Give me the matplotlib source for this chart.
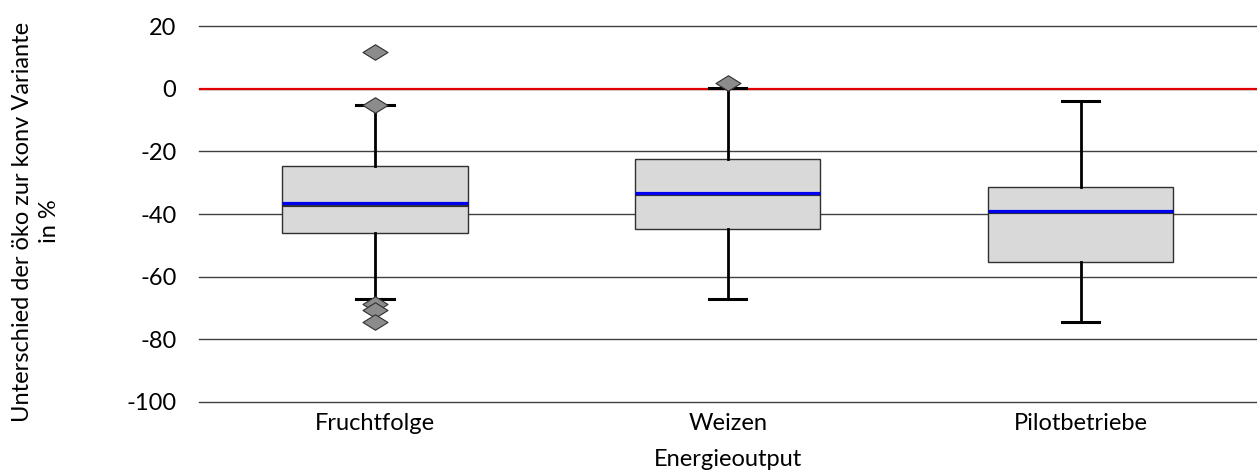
import matplotlib
matplotlib.use('Agg')
import matplotlib.pyplot as plt
import matplotlib.patheffects as pe
from matplotlib.path import Path

plt.rcParams['font.family'] = ['Lato', 'DejaVu Sans']
plt.rcParams['axes.unicode_minus'] = False

# values (percent difference organic vs. conventional)
categories = ['Fruchtfolge', 'Weizen', 'Pilotbetriebe']
q1 = [-46.0, -44.8, -55.4]
median = [-36.6, -33.2, -38.9]
q3 = [-24.7, -22.4, -31.4]
whisker_low = [-67.2, -67.2, -74.6]
whisker_high = [-5.2, 0.1, -4.0]
outliers = [[11.8, -5.2, -68.7, -70.6, -74.5], [1.9], []]

stats = []
for i, name in enumerate(categories):
    stats.append(dict(label=name, q1=q1[i], med=median[i], q3=q3[i],
                      whislo=whisker_low[i], whishi=whisker_high[i],
                      fliers=outliers[i]))

# flat diamond marker like in the original chart
diamond = Path([(-1, 0), (0, 0.62), (1, 0), (0, -0.62), (-1, 0)],
               [Path.MOVETO, Path.LINETO, Path.LINETO, Path.LINETO, Path.CLOSEPOLY])

fig = plt.figure(figsize=(12.57, 4.74), dpi=100)
ax = fig.add_axes([0.158, 0.152, 0.842, 0.793])

ax.set_axisbelow(True)
ax.yaxis.grid(True, color='#404040', linewidth=1.0)

ax.axhline(0, color='#e00000', linewidth=1.6, zorder=2.5)

ax.bxp(stats, positions=[0, 1, 2], widths=0.525, capwidths=0.105,
       patch_artist=True,
       boxprops=dict(facecolor='#d9d9d9', edgecolor='#303030', linewidth=1.0),
       medianprops=dict(color='#0000ee', linewidth=2.3,
                        path_effects=[pe.SimpleLineShadow(offset=(0, -1.2), shadow_color='#202020', alpha=0.9),
                                      pe.Normal()]),
       whiskerprops=dict(color='black', linewidth=2.0),
       capprops=dict(color='black', linewidth=2.2),
       flierprops=dict(marker=diamond, markersize=18, markerfacecolor='#8c8c8c',
                       markeredgecolor='#303030', markeredgewidth=0.8),
       zorder=3)

ax.set_xlim(-0.5, 2.5)
ax.set_ylim(-100, 20)
ax.set_yticks([-100, -80, -60, -40, -20, 0, 20])
ax.set_xticks([0, 1, 2])
ax.set_xticklabels(categories)
for gl in ax.get_ygridlines():
    gl.set_clip_on(False)

for side in ['left', 'right', 'top', 'bottom']:
    ax.spines[side].set_visible(False)

ax.tick_params(axis='y', length=0, pad=16, labelsize=17)
ax.tick_params(axis='x', length=0, pad=8, labelsize=17)

ax.set_xlabel('Energieoutput', fontsize=17, labelpad=11)
ax.set_ylabel('Unterschied der öko zur konv Variante\nin %', fontsize=17,
              linespacing=1.35)
ax.yaxis.set_label_coords(-0.131, 0.48)

fig.savefig('out.png', dpi=100)
plt.close(fig)
